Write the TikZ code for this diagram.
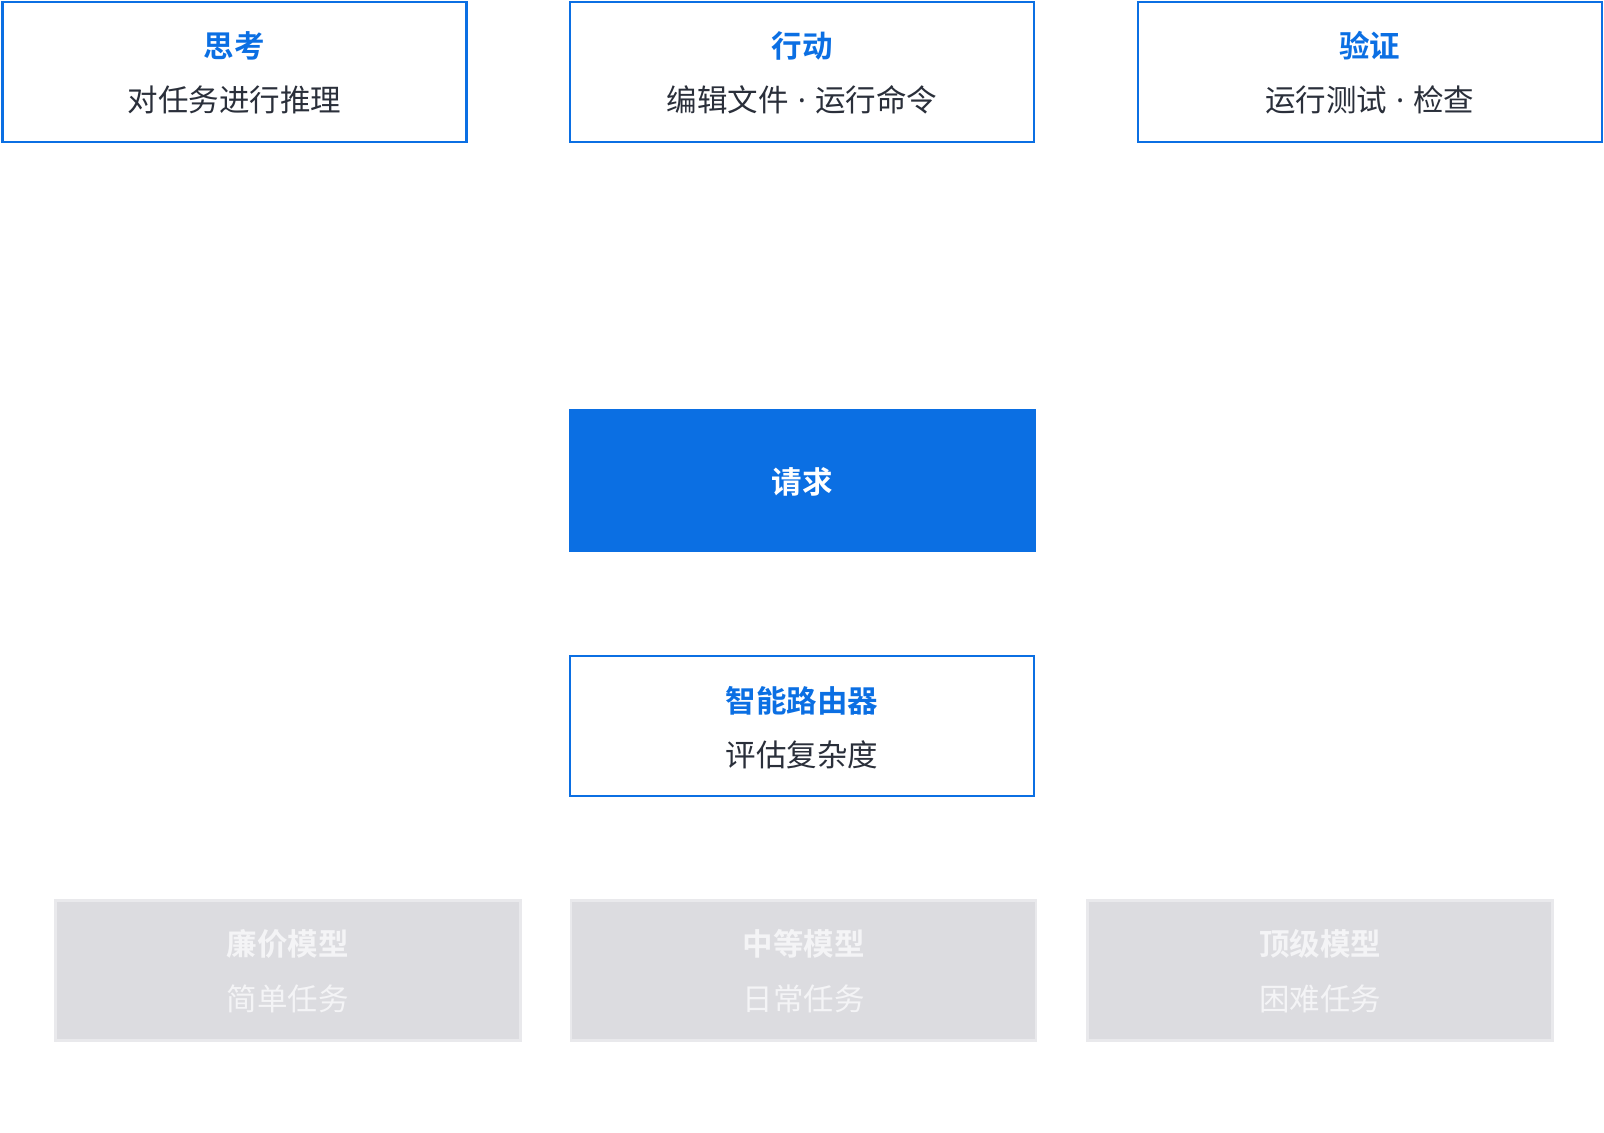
\documentclass[tikz,border=0pt]{standalone}
\usepackage{fontspec}
\newfontfamily\cjk{Noto Sans CJK SC}
\newfontfamily\cjkb{Noto Sans CJK SC Bold}
\newfontfamily\lat{Noto Sans}
\definecolor{blu}{HTML}{0B6FE3}
\definecolor{txt}{HTML}{2A2F3A}
\definecolor{gfill}{HTML}{DCDCE0}
\definecolor{gedge}{HTML}{E9E9EC}
\definecolor{gtxt}{HTML}{F4F4F6}
\newcommand{\mdot}{\hspace{0.3em}{\lat ·}\hspace{0.3em}}
\begin{document}
\begin{tikzpicture}[x=1.023pt,y=-1.023pt,
  box/.style={draw=blu,line width=2.5pt,fill=white,minimum width=464pt,minimum height=140pt,inner sep=0pt},
  gbox/.style={draw=gedge,line width=2.5pt,fill=gfill,minimum width=465pt,minimum height=140pt,inner sep=0pt},
  ttl/.style={font=\cjkb\fontsize{30.5}{34}\selectfont,text=blu},
  sub/.style={font=\cjk\fontsize{30.5}{34}\selectfont,text=txt},
  gttl/.style={font=\cjkb\fontsize{30.5}{34}\selectfont,text=gtxt},
  gsub/.style={font=\cjk\fontsize{30.5}{34}\selectfont,text=gtxt}]
\useasboundingbox (0,0) rectangle (1568,1106.6);
\fill[white] (0,0) rectangle (1568,1106.6);
\node[box] (think) at (229,70.5) {};
\node[box] (act) at (784,70.5) {};
\node[box] (ver) at (1339,70.5) {};
\node[ttl] (thinkt) at (229,45) {思考};
\node[sub] (thinks) at (229,98) {对任务进行推理};
\node[ttl] (actt) at (784,45) {行动};
\node[sub] (acts) at (784,98) {编辑文件\mdot 运行命令};
\node[ttl] (vert) at (1339,45) {验证};
\node[sub] (vers) at (1339,98) {运行测试\mdot 检查};
\node[fill=blu,minimum width=467pt,minimum height=143pt,inner sep=0pt] (req) at (784,469.5) {};
\node[font=\cjkb\fontsize{30.5}{34}\selectfont,text=white] (reqt) at (784,471) {请求};
\node[box] (rt) at (784,709.5) {};
\node[ttl] (rtt) at (784,685) {智能路由器};
\node[sub] (rts) at (784,738) {评估复杂度};
\node[gbox] (m1) at (281.5,948.5) {};
\node[gbox] (m2) at (785.5,948.5) {};
\node[gbox] (m3) at (1290.5,948.5) {};
\node[gttl] (m1t) at (281.5,923) {廉价模型};
\node[gsub] (m1s) at (281.5,976) {简单任务};
\node[gttl] (m2t) at (785.5,923) {中等模型};
\node[gsub] (m2s) at (785.5,976) {日常任务};
\node[gttl] (m3t) at (1290.5,923) {顶级模型};
\node[gsub] (m3s) at (1290.5,976) {困难任务};
\end{tikzpicture}
\end{document}
